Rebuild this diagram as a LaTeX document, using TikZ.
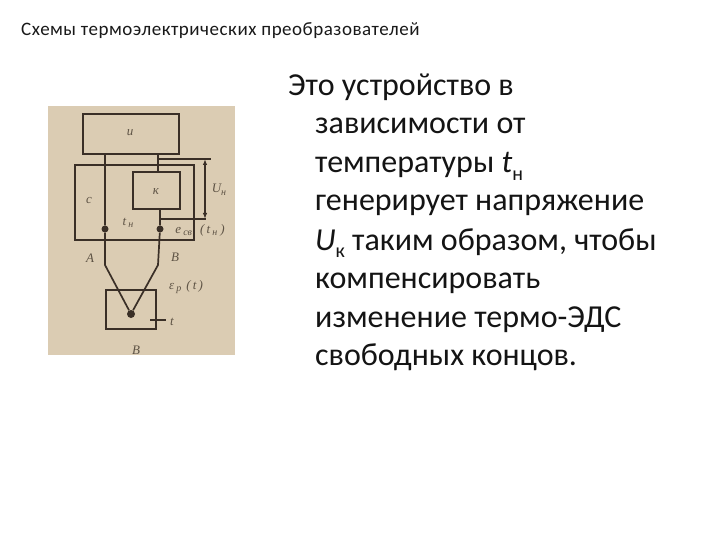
\documentclass[tikz,border=0pt]{standalone}
\usepackage{fontspec}
\setmainfont{Carlito}
\newfontfamily\lblfont{Liberation Serif}
\newfontfamily\titlefont[LetterSpace=2.7]{Carlito}
\usetikzlibrary{arrows.meta}
\definecolor{photo}{HTML}{DBCCB3}
\definecolor{ink}{HTML}{3A2F27}
\definecolor{lbl}{HTML}{5E5345}
\tikzset{
  wire/.style={draw=ink,line width=1.7pt,line join=round},
  blockbox/.style={draw=ink,line width=1.9pt,fill=none,inner sep=0pt},
  thin wire/.style={draw=ink,line width=1.3pt},
  junction/.style={circle,fill=ink,draw=none,inner sep=0pt,minimum size=7pt},
  plabel/.style={font=\lblfont\itshape\fontsize{13}{13}\selectfont,text=lbl,inner sep=0pt,anchor=center},
  bodyline/.style={font=\fontsize{32}{32}\selectfont,text=black!92,inner sep=0pt,anchor=base west},
  titleline/.style={font=\titlefont\fontsize{19}{19}\selectfont,text=black!90,inner sep=0pt,anchor=base west}
}
\newcommand{\sbs}[1]{\raisebox{-0.22em}{\fontsize{20}{20}\selectfont #1}}
\newcommand{\lsb}[1]{\raisebox{-0.2em}{\fontsize{10}{10}\selectfont #1}}
\begin{document}
\begin{tikzpicture}[x=1pt,y=-1pt]
\useasboundingbox (0,0) rectangle (720,540);
\fill[white] (0,0) rectangle (720,540);
\fill[photo] (48,106) rectangle (235,355);
% blocks
\node[blockbox,minimum width=96pt,minimum height=40pt] (ibox) at (131,134) {};
\node[blockbox,minimum width=119pt,minimum height=75pt] (cbox) at (134.5,202.5) {};
\node[blockbox,minimum width=47pt,minimum height=37pt,fill=photo] (kbox) at (156.5,190.5) {};
\node[blockbox,minimum width=50pt,minimum height=39pt] (vbox) at (131,309.5) {};
% junctions
\node[junction] (ja) at (105,229) {};
\node[junction] (jb) at (160,229) {};
\node[junction,minimum size=8pt] (jv) at (131,314) {};
% routing points
\coordinate (ia) at (105,154);
\coordinate (ib) at (158,154);
\coordinate (kt) at (158,172);
\coordinate (kb) at (160,209);
\coordinate (ta) at (105,265);
\coordinate (tb) at (158,265);
\coordinate (u1s) at (158,159);
\coordinate (u1e) at (211,159);
\coordinate (u2s) at (160,219);
\coordinate (u2e) at (206,219);
\coordinate (ua) at (205,159);
\coordinate (ub) at (205,219);
\coordinate (ts) at (150,320);
\coordinate (te) at (166,320);
% wires
\draw[wire] (ia) -- (ja) -- (ta) -- (jv);
\draw[wire] (ib) -- (kt);
\draw[wire] (kb) -- (jb) -- (tb) -- (jv);
\draw[thin wire] (u1s) -- (u1e);
\draw[thin wire] (u2s) -- (u2e);
\draw[thin wire,{Latex[length=6pt,width=4.5pt]}-{Latex[length=6pt,width=4.5pt]}] (ua) -- (ub);
\draw[thin wire] (ts) -- (te);
% diagram labels
\node[plabel] (li) at (130,133) {и};
\node[plabel] (lk) at (156,192) {к};
\node[plabel] (lc) at (89,201) {с};
\node[plabel] (lu) at (219,190) {U\lsb{н}};
\node[plabel] (lt) at (128,223) {t\,\lsb{н}};
\node[plabel] (le) at (200,230) {e\,\lsb{св}\hspace{8pt}(\,t\,\lsb{н}\hspace{3pt})};
\node[plabel] (la) at (90,258) {А};
\node[plabel] (lb) at (175,257) {В};
\node[plabel] (lp) at (186,287) {ε\,\lsb{р}\hspace{5pt}(\,t\,)};
\node[plabel] (ltt) at (172,322) {t};
\node[plabel] (lv) at (136,350) {В};
% text
\node[titleline] (title) at (21,36) {Схемы термоэлектрических преобразователей};
\node[bodyline] (b1) at (288,96) {Это устройство в};
\node[bodyline] (b2) at (315,134) {зависимости от};
\node[bodyline] (b3) at (315,173) {температуры \textit{t}\sbs{н}};
\node[bodyline] (b4) at (315,211) {генерирует напряжение};
\node[bodyline] (b5) at (315,250) {\textit{U}\sbs{к} таким образом, чтобы};
\node[bodyline] (b6) at (315,288) {компенсировать};
\node[bodyline] (b7) at (315,327) {изменение термо-ЭДС};
\node[bodyline] (b8) at (315,365) {свободных концов.};
\end{tikzpicture}
\end{document}
